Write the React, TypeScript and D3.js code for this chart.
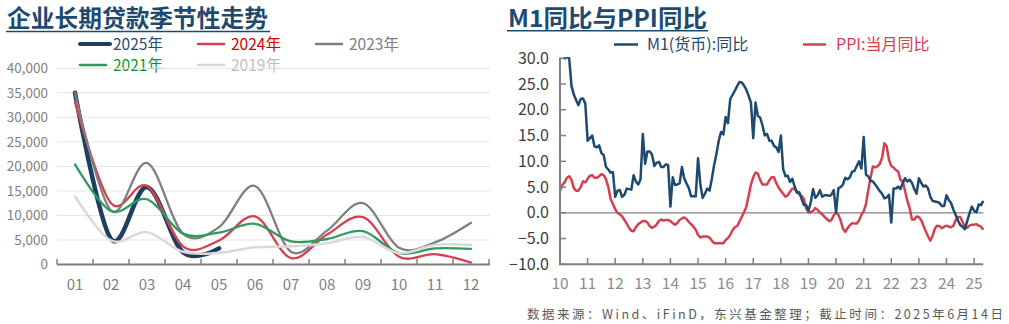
import React from 'react';
import * as d3 from 'd3';

// ---------- Left chart data (企业长期贷款, 亿元) ----------
const months = ['01', '02', '03', '04', '05', '06', '07', '08', '09', '10', '11', '12'];
const loans2025 = [35000, 5200, 15800, 2500, 3300];
const loans2024 = [33100, 12500, 16000, 3700, 4900, 9800, 1300, 6100, 9650, 1600, 2100, 400];
const loans2023 = [35000, 11000, 20700, 6300, 7600, 16000, 2600, 6900, 12500, 3400, 4500, 8500];
const loans2021 = [20400, 10900, 13300, 6300, 6500, 8300, 4700, 5200, 6800, 2300, 3300, 3200];
const loans2019 = [13900, 4900, 6600, 2600, 2400, 3500, 3700, 4300, 5600, 2300, 4000, 4000];
const leftTicks = [0, 5000, 10000, 15000, 20000, 25000, 30000, 35000, 40000];

// ---------- Right chart data (monthly, 2010-01 .. 2025-05) ----------
const yearLabels = ['10', '11', '12', '13', '14', '15', '16', '17', '18', '19', '20', '21', '22', '23', '24', '25'];
const m1Yoy = [
  38.96, 34.99, 29.94, 30.25, 29.99, 24.6, 22.99, 21.92, 20.9, 22.1, 22.2, 21.2,
  14.0, 14.5, 15.0, 12.9, 12.7, 13.1, 11.6, 11.2, 8.9, 8.4, 7.8, 7.9,
  3.1, 4.3, 4.4, 3.1, 3.5, 4.7, 4.6, 4.5, 7.3, 6.1, 5.5, 6.5,
  15.3, 9.5, 11.9, 11.9, 11.3, 9.1, 9.7, 9.9, 8.9, 8.9, 9.4, 9.3,
  1.2, 6.9, 5.4, 5.5, 5.7, 8.9, 6.7, 5.7, 4.8, 3.2, 3.2, 3.2,
  10.6, 5.6, 2.9, 3.7, 4.7, 4.3, 6.6, 9.3, 11.4, 14.0, 15.7, 15.2,
  18.6, 17.4, 22.1, 22.9, 23.7, 24.6, 25.4, 25.3, 24.7, 23.9, 22.7, 21.4,
  14.5, 21.4, 18.8, 18.5, 17.0, 15.0, 15.3, 14.0, 14.0, 13.0, 12.7, 11.8,
  15.0, 8.5, 7.1, 7.2, 6.0, 6.6, 5.1, 3.9, 4.0, 2.7, 1.5, 1.5,
  0.4, 2.0, 4.6, 2.9, 3.4, 4.4, 3.1, 3.4, 3.4, 3.3, 3.5, 4.4,
  0.0, 4.8, 5.0, 5.5, 6.8, 6.5, 6.9, 8.0, 8.1, 9.1, 10.0, 8.6,
  14.7, 7.4, 7.1, 6.2, 6.1, 5.5, 4.9, 4.2, 3.7, 2.8, 3.0, 3.5,
  -1.9, 4.7, 4.7, 5.1, 4.6, 5.8, 6.7, 6.1, 6.4, 5.8, 4.6, 3.7,
  6.7, 5.8, 5.1, 5.3, 4.7, 3.1, 2.3, 2.2, 2.1, 1.9, 1.3, 1.3,
  3.4, 2.5, 1.9, 0.6, -0.4, -1.5, -2.4, -2.7, -3.2, -1.6, -0.1, 1.2,
  0.4, 0.1, 1.6, 1.5, 2.3,
];
const ppiYoy = [
  4.3, 5.4, 5.9, 6.8, 7.1, 6.4, 4.8, 4.3, 4.3, 5.0, 6.1, 5.9,
  6.6, 7.2, 7.3, 6.8, 6.8, 7.1, 7.5, 7.3, 6.5, 5.0, 2.7, 1.7,
  0.7, 0.0, -0.3, -0.7, -1.4, -2.1, -2.9, -3.5, -3.6, -2.8, -2.2, -1.9,
  -1.6, -1.6, -1.9, -2.6, -2.9, -2.7, -2.3, -1.6, -1.3, -1.5, -1.4, -1.4,
  -1.6, -2.0, -2.3, -2.0, -1.4, -1.1, -0.9, -1.2, -1.8, -2.2, -2.7, -3.3,
  -4.3, -4.8, -4.6, -4.6, -4.6, -4.8, -5.4, -5.9, -5.9, -5.9, -5.9, -5.9,
  -5.3, -4.9, -4.3, -3.4, -2.8, -2.6, -1.7, -0.8, 0.1, 1.2, 3.3, 5.5,
  6.9, 7.8, 7.6, 6.4, 5.5, 5.5, 5.5, 6.3, 6.9, 6.9, 5.8, 4.9,
  4.3, 3.7, 3.1, 3.4, 4.1, 4.7, 4.6, 4.1, 3.6, 3.3, 2.7, 0.9,
  0.1, 0.1, 0.4, 0.9, 0.6, 0.0, -0.3, -0.8, -1.2, -1.6, -1.4, -0.5,
  0.1, -0.4, -1.5, -3.1, -3.7, -3.0, -2.4, -2.0, -2.1, -2.1, -1.5, -0.4,
  0.3, 1.7, 4.4, 6.8, 9.0, 8.8, 9.0, 9.5, 10.7, 13.5, 12.9, 10.3,
  9.1, 8.8, 8.3, 8.0, 6.4, 6.1, 4.2, 2.3, 0.9, -1.3, -1.3, -0.7,
  -0.8, -1.4, -2.5, -3.6, -4.6, -5.4, -4.4, -3.0, -2.5, -2.6, -3.0, -2.7,
  -2.5, -2.7, -2.8, -2.5, -1.4, -0.8, -0.8, -1.8, -2.8, -2.9, -2.5, -2.3,
  -2.3, -2.2, -2.5, -2.7, -3.3,
];
const rightTicks = [-10, -5, 0, 5, 10, 15, 20, 25, 30];

const FONT = '"Noto Sans CJK SC", "Noto Sans", sans-serif';
const NAVY = '#1f4a70';
const RED = '#d5404f';

export default function App() {
  // ----- left chart scales -----
  const xL = d3.scaleBand<string>().domain(months).range([57, 489]);
  const yL = d3.scaleLinear().domain([0, 40000]).range([264.5, 68.3]);
  const lineL = d3
    .line<number>()
    .x((_, i) => (xL(months[i]) as number) + xL.bandwidth() / 2)
    .y((d) => yL(d))
    .curve(d3.curveCardinal.tension(0));

  const leftSeries = [
    { name: '2025年', data: loans2025, color: '#1f3f62', text: '#1f4e79', width: 4.5, lx: 80, ly: 44 },
    { name: '2024年', data: loans2024, color: RED, text: '#d00000', width: 2.3, lx: 198, ly: 44 },
    { name: '2023年', data: loans2023, color: '#7f7f7f', text: '#7f7f7f', width: 2.3, lx: 316, ly: 44 },
    { name: '2021年', data: loans2021, color: '#2e9a5e', text: '#0a9a2a', width: 2.3, lx: 80, ly: 65 },
    { name: '2019年', data: loans2019, color: '#d9d9d9', text: '#bfbfbf', width: 2.5, lx: 198, ly: 65 },
  ];

  // ----- right chart scales -----
  const nMonths = m1Yoy.length;
  const xR = d3.scaleLinear().domain([0, nMonths - 1]).range([560, 983.3]);
  const yR = d3.scaleLinear().domain([-10, 30]).range([264.3, 58.3]);
  const lineR = d3
    .line<number>()
    .x((_, i) => xR(i))
    .y((d) => yR(d));

  return (
    <svg
      width={1009}
      height={324}
      style={{ position: 'absolute', left: 0, top: 0, background: '#fff' }}
      fontFamily={FONT}
    >
      <rect x={0} y={0} width={1009} height={324} fill="#fff" />
      {/* ================= LEFT CHART ================= */}
      <text x={7} y={27} fontSize={23.5} fontWeight={700} fill="#1f4a70" textLength={261} lengthAdjust="spacingAndGlyphs">
        企业长期贷款季节性走势
      </text>
      <line x1={6} x2={270} y1={31.5} y2={31.5} stroke="#1f4a70" strokeWidth={1.5} />

      {/* legend */}
      {leftSeries.map((s) => (
        <g key={s.name}>
          <line x1={s.lx} x2={s.lx + (s.width > 3 ? 30 : 26)} y1={s.ly} y2={s.ly} stroke={s.color} strokeWidth={s.width > 3 ? 4 : 2.5} strokeLinecap="round" />
          <text x={s.lx + 33} y={s.ly} dy="0.36em" fontSize={15.5} fill={s.text}>
            {s.name}
          </text>
        </g>
      ))}

      {/* gridlines */}
      {leftTicks.filter((t) => t > 0).map((t) => (
        <line key={t} x1={57} x2={490} y1={yL(t)} y2={yL(t)} stroke="#e4e4e4" strokeWidth={1} />
      ))}
      {/* y labels */}
      {leftTicks.map((t) => (
        <text key={t} x={48} y={yL(t)} dy="0.35em" textAnchor="end" fontSize={13.5} fill="#7f7f7f">
          {d3.format(',')(t)}
        </text>
      ))}

      {/* series, first drawn at bottom */}
      {leftSeries.map((s) => (
        <path key={s.name} d={lineL(s.data) || ''} fill="none" stroke={s.color} strokeWidth={s.width} strokeLinecap="round" strokeLinejoin="round" />
      ))}

      {/* x axis */}
      <line x1={57} x2={490} y1={264.5} y2={264.5} stroke="#808080" strokeWidth={2} />
      {[...months.map((m) => xL(m) as number), 489].map((x, i) => (
        <line key={i} x1={x} x2={x} y1={264.5} y2={259} stroke="#808080" strokeWidth={1.5} />
      ))}
      {months.map((m) => (
        <text key={m} x={(xL(m) as number) + xL.bandwidth() / 2} y={285} dy="0.35em" textAnchor="middle" fontSize={15} fill="#7f7f7f">
          {m}
        </text>
      ))}

      {/* ================= RIGHT CHART ================= */}
      <text x={508} y={27} fontSize={23.5} fontWeight={700} fill="#1f4a70" textLength={199} lengthAdjust="spacingAndGlyphs">
        M1同比与PPI同比
      </text>
      <line x1={507} x2={708} y1={30.8} y2={30.8} stroke="#1f4a70" strokeWidth={1.5} />

      {/* legend */}
      <line x1={614} x2={638} y1={44.5} y2={44.5} stroke={NAVY} strokeWidth={2.5} />
      <text x={647} y={44.5} dy="0.36em" fontSize={16} fill={NAVY}>M1(货币):同比</text>
      <line x1={803} x2={826} y1={44.5} y2={44.5} stroke={RED} strokeWidth={2.5} />
      <text x={836} y={44.5} dy="0.36em" fontSize={16} fill={RED}>PPI:当月同比</text>

      {/* y labels */}
      {rightTicks.map((t) => (
        <text key={t} x={549} y={yR(t)} dy="0.35em" textAnchor="end" fontSize={16} fill="#404040">
          {d3.format('.1f')(t)}
        </text>
      ))}

      <defs>
        <clipPath id="rclip">
          <rect x={558} y={57} width={430} height={210} />
        </clipPath>
      </defs>

      {/* zero line */}
      <line x1={560} x2={983.3} y1={yR(0)} y2={yR(0)} stroke="#808080" strokeWidth={1.3} />

      <g clipPath="url(#rclip)">
        <path d={lineR(ppiYoy) || ''} fill="none" stroke={RED} strokeWidth={2.5} strokeLinejoin="round" />
        <path d={lineR(m1Yoy) || ''} fill="none" stroke={NAVY} strokeWidth={2.5} strokeLinejoin="round" />
      </g>

      {/* axes */}
      <line x1={560} x2={560} y1={57.5} y2={265.3} stroke="#808080" strokeWidth={2} />
      {rightTicks.map((t) => (
        <line key={t} x1={560} x2={566} y1={yR(t)} y2={yR(t)} stroke="#808080" strokeWidth={1.5} />
      ))}
      <line x1={559} x2={983.3} y1={264.3} y2={264.3} stroke="#808080" strokeWidth={2} />
      {yearLabels.map((yl, i) => (
        <g key={yl}>
          <line x1={xR(i * 12)} x2={xR(i * 12)} y1={264.3} y2={258} stroke="#808080" strokeWidth={1.5} />
          <text x={xR(i * 12)} y={284} dy="0.35em" textAnchor="middle" fontSize={15.5} fill="#8c8c8c">
            {yl}
          </text>
        </g>
      ))}

      {/* footer */}
      <text x={527} y={318.5} fontSize={12.5} fill="#595959" textLength={476} lengthAdjust="spacing">
        数据来源：Wind、iFinD，东兴基金整理；截止时间：2025年6月14日
      </text>
    </svg>
  );
}
